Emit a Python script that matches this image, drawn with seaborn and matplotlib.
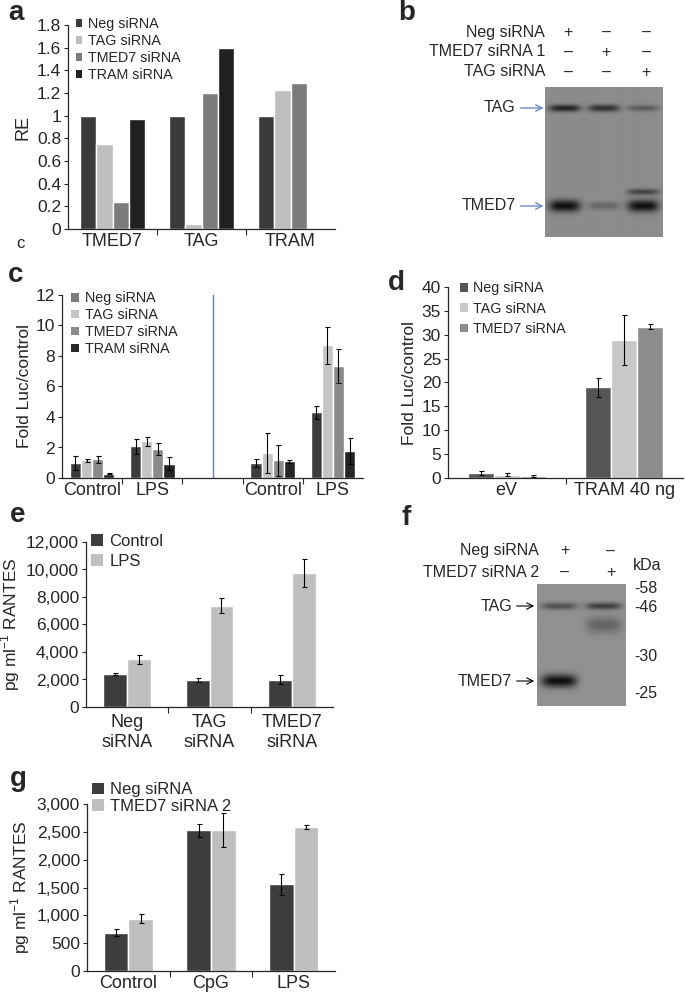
import numpy as np
import pandas as pd
import matplotlib.pyplot as plt
import seaborn as sns
from matplotlib.patches import Patch
from matplotlib.ticker import FuncFormatter

sns.set_theme(style='ticks')
plt.rcParams['font.family'] = ['Liberation Sans', 'DejaVu Sans']
plt.rcParams['mathtext.fontset'] = 'custom'
plt.rcParams['mathtext.rm'] = 'Liberation Sans'
plt.rcParams['axes.linewidth'] = 0.9

# ---- panel a: relative expression
a_genes = ['TMED7', 'TAG', 'TRAM']
a_sirna = ['Neg siRNA', 'TAG siRNA', 'TMED7 siRNA', 'TRAM siRNA']
a_neg = [1.0, 1.0, 1.0]
a_tag = [0.75, 0.04, 1.23]
a_tmed7 = [0.24, 1.2, 1.29]
a_tram = [0.97, 1.6, np.nan]

# ---- panel c: NF-kB luciferase
c_keys = ['Control 1', 'LPS 1', 'gap', 'Control 2', 'LPS 2']
c_labels = ['Control', 'LPS', '', 'Control', 'LPS']
c_neg = [1.0, 2.07, 1.0, 4.3]
c_tag = [1.15, 2.4, 1.65, 8.7]
c_tmed7 = [1.22, 1.9, 1.15, 7.35]
c_tram = [0.28, 0.95, 1.1, 1.75]
c_neg_err = [0.45, 0.5, 0.25, 0.45]
c_tag_err = [0.1, 0.3, 1.3, 1.2]
c_tmed7_err = [0.25, 0.4, 1.0, 1.1]
c_tram_err = [0.05, 0.4, 0.1, 0.85]

# ---- panel d: TRAM overexpression
d_groups = ['eV', 'TRAM 40 ng']
d_sirna = ['Neg siRNA', 'TAG siRNA', 'TMED7 siRNA']
d_neg = [1.0, 19.0]
d_tag = [0.7, 28.9]
d_tmed7 = [0.4, 31.7]
d_neg_err = [0.4, 2.0]
d_tag_err = [0.3, 5.2]
d_tmed7_err = [0.2, 0.6]

# ---- panel e: RANTES
e_groups = ['Neg\nsiRNA', 'TAG\nsiRNA', 'TMED7\nsiRNA']
e_control = [2380, 1990, 1990]
e_lps = [3470, 7370, 9750]
e_control_err = [60, 145, 340]
e_lps_err = [340, 560, 1040]

# ---- panel g: RANTES, siRNA 2
g_groups = ['Control', 'CpG', 'LPS']
g_neg = [690, 2527, 1557]
g_tmed7 = [940, 2527, 2587]
g_neg_err = [60, 114, 192]
g_tmed7_err = [84, 305, 30]

# ---- blots: (lane, row position, intensity, thickness)
b_bands = [(0, 21, 0.85, 3.5), (1, 21, 0.75, 3.5), (2, 21, 0.4, 3.0),
           (0, 119, 1.0, 6.0), (1, 119, 0.3, 4.0), (2, 119, 1.0, 6.0),
           (2, 105, 0.6, 3.0)]
f_bands = [(0, 22, 0.5, 3.5), (1, 22, 0.65, 3.5), (1, 41, 0.35, 8.0),
           (0, 97, 1.0, 6.5)]
f_kda = [58, 46, 30, 25]
f_kda_pos = [3, 22, 71, 108]

W, H = 685, 996
fig = plt.figure(figsize=(W / 100, H / 100), dpi=100)

XT, YT, YL, BL = 13, 12.5, 12.5, 11.5


def rect(l, t, r, b):
    return [l / W, 1 - b / H, (r - l) / W, (b - t) / H]


def fx(x):
    return x / W


def fy(y):
    return 1 - y / H


def long_df(groups, names, cols, errs=None):
    rows = []
    for name, vals, i in zip(names, cols, range(len(cols))):
        for gi, g in enumerate(groups):
            e = errs[i][gi] if errs is not None else np.nan
            rows.append({'group': g, 'siRNA': name, 'value': vals[gi], 'err': e})
    return pd.DataFrame(rows)


def bar_panel(ax, df, order, hue_order, colors, width):
    sns.barplot(data=df, x='group', y='value', hue='siRNA', order=order,
                hue_order=hue_order, palette=colors, errorbar=None,
                width=width, saturation=1, legend=False, ax=ax)
    lookup = df.set_index(['group', 'siRNA'])['err']
    for cont, h in zip(ax.containers, hue_order):
        for bar in cont:
            xc = bar.get_x() + bar.get_width() / 2
            g = order[int(round(xc))]
            e = lookup.get((g, h), np.nan)
            if not np.isnan(e):
                ax.errorbar(xc, bar.get_height(), yerr=e, fmt='none',
                            ecolor='black', elinewidth=0.8, capsize=1.8,
                            capthick=0.8)
    n = len(order)
    ax.set_xlim(-0.5, n - 0.5)
    ax.set_xticks(np.arange(0.5, n - 0.5), minor=True)
    ax.tick_params(axis='x', which='major', length=0, pad=3, labelsize=XT)
    ax.tick_params(axis='x', which='minor', length=4, width=0.8, direction='out')
    ax.tick_params(axis='y', length=3, width=0.8, labelsize=YT, pad=2)
    ax.set_xlabel('')
    sns.despine(ax=ax)


def legend(ax, names, colors, loc, bbox, size=9, spacing=0.35, hl=0.6):
    handles = [Patch(facecolor=c, edgecolor='none', label=n) for n, c in zip(names, colors)]
    ax.legend(handles=handles, loc=loc, bbox_to_anchor=bbox, frameon=False,
              fontsize=size, handlelength=hl, handleheight=hl,
              handletextpad=0.4, labelspacing=spacing, borderaxespad=0,
              borderpad=0)


def blot(ax, n_lanes, height, bands, bg):
    xs = np.linspace(0, n_lanes, 300)
    ys = np.linspace(0, height, 300)
    X, Y = np.meshgrid(xs, ys)
    dark = np.zeros_like(X)
    for lane, y0, inten, wy in bands:
        dark += inten * np.exp(-((X - lane - 0.5) / 0.4) ** 4) * np.exp(-((Y - y0) / wy) ** 2)
    img = bg - np.clip(dark, 0, 1) * (bg - 0.06)
    ax.imshow(img, cmap='gray', vmin=0, vmax=1, extent=[0, n_lanes, height, 0],
              aspect='auto', interpolation='bilinear')
    ax.set_xticks([])
    ax.set_yticks([])
    for s in ax.spines.values():
        s.set_visible(False)


thousands = FuncFormatter(lambda v, p: f'{int(v):,}')
label_kw = dict(fontsize=20, fontweight='bold')

# ================= a
ax_a = fig.add_axes(rect(68, 25, 335, 229))
df_a = long_df(a_genes, a_sirna, [a_neg, a_tag, a_tmed7, a_tram])
a_colors = ['#3a3a3a', '#bebebe', '#7c7c7c', '#202020']
bar_panel(ax_a, df_a, a_genes, a_sirna, a_colors, 0.74)
ax_a.set_ylim(0, 1.8)
ax_a.set_yticks(np.arange(0, 1.81, 0.2))
ax_a.set_yticklabels(['0', '0.2', '0.4', '0.6', '0.8', '1', '1.2', '1.4', '1.6', '1.8'])
ax_a.set_ylabel('RE', fontsize=13, labelpad=4)
legend(ax_a, a_sirna, a_colors, 'upper left', (0.03, 1.04), size=10.3, spacing=0.22, hl=0.45)
fig.text(fx(8), fy(20), 'a', **label_kw)
fig.text(fx(16), fy(243), 'c', fontsize=12, va='center')

# ================= b
ax_b = fig.add_axes(rect(545, 87, 663, 237))
blot(ax_b, 3, 150, b_bands, 0.55)
b_rows = ['Neg siRNA', 'TMED7 siRNA 1', 'TAG siRNA']
b_signs = [['+', '–', '–'], ['–', '+', '–'], ['–', '–', '+']]
for i, (name, y) in enumerate(zip(b_rows, [32, 52, 72])):
    fig.text(fx(545), fy(y), name, ha='right', va='center', fontsize=BL)
    for j, x in enumerate([568, 606, 646]):
        fig.text(fx(x), fy(y), b_signs[i][j], ha='center', va='center', fontsize=BL)
for name, y in [('TAG', 21), ('TMED7', 119)]:
    ax_b.annotate(name, xy=(0, y), xycoords='data', xytext=(-21, 0),
                  textcoords='offset points', ha='right', va='center', fontsize=BL,
                  arrowprops=dict(arrowstyle='->', color='#6a8cc8', lw=1,
                                  shrinkA=1, shrinkB=1), annotation_clip=False)
fig.text(fx(398), fy(20), 'b', **label_kw)

# ================= c
ax_c = fig.add_axes(rect(62, 295, 363, 478))
c_names = ['Neg siRNA', 'TAG siRNA', 'TMED7 siRNA', 'TRAM siRNA']
c_data_keys = [k for k in c_keys if k != 'gap']
df_c = long_df(c_data_keys, c_names, [c_neg, c_tag, c_tmed7, c_tram],
               [c_neg_err, c_tag_err, c_tmed7_err, c_tram_err])
c_colors = ['#3c3c3c', '#c4c4c4', '#8a8a8a', '#252525']
bar_panel(ax_c, df_c, c_keys, c_names, c_colors, 0.74)
ax_c.set_xticks(range(len(c_keys)))
ax_c.set_xticklabels(c_labels)
ax_c.set_ylim(0, 12)
ax_c.set_yticks(range(0, 13, 2))
ax_c.axvline(c_keys.index('gap'), color='#5a7ec8', lw=1)
ax_c.set_ylabel('Fold Luc/control', fontsize=YL, labelpad=3)
legend(ax_c, c_names, ['#7d7d7d', '#c4c4c4', '#8a8a8a', '#2a2a2a'],
       'upper left', (0.03, 1.02), size=10.3, spacing=0.2, hl=0.55)
fig.text(fx(8), fy(282), 'c', **label_kw)

# ================= d
ax_d = fig.add_axes(rect(448, 287, 683, 478))
df_d = long_df(d_groups, d_sirna, [d_neg, d_tag, d_tmed7],
               [d_neg_err, d_tag_err, d_tmed7_err])
d_colors = ['#555555', '#c8c8c8', '#8c8c8c']
bar_panel(ax_d, df_d, d_groups, d_sirna, d_colors, 0.66)
ax_d.set_ylim(0, 40)
ax_d.set_yticks(range(0, 41, 5))
ax_d.set_ylabel('Fold Luc/control', fontsize=YL, labelpad=3)
legend(ax_d, d_sirna, d_colors, 'upper left', (0.05, 1.03), size=10.3, spacing=0.45, hl=0.55)
fig.text(fx(388), fy(290), 'd', **label_kw)

# ================= e
ax_e = fig.add_axes(rect(86, 542, 333, 707))
e_names = ['Control', 'LPS']
df_e = long_df(e_groups, e_names, [e_control, e_lps], [e_control_err, e_lps_err])
e_colors = ['#3d3d3d', '#bfbfbf']
bar_panel(ax_e, df_e, e_groups, e_names, e_colors, 0.58)
ax_e.tick_params(axis='x', which='major', pad=5)
for t in ax_e.get_xticklabels():
    t.set_linespacing(1.25)
ax_e.set_ylim(0, 12000)
ax_e.set_yticks(range(0, 12001, 2000))
ax_e.yaxis.set_major_formatter(thousands)
ax_e.set_ylabel(r'pg ml$^{-1}$ RANTES', fontsize=YL, labelpad=3)
legend(ax_e, e_names, e_colors, 'upper left', (0.02, 1.05), size=12, spacing=0.3, hl=0.7)
fig.text(fx(10), fy(522), 'e', **label_kw)

# ================= f
ax_f = fig.add_axes(rect(537, 584, 626, 706))
blot(ax_f, 2, 122, f_bands, 0.57)
ax_f.yaxis.tick_right()
ax_f.set_yticks(f_kda_pos)
ax_f.set_yticklabels(['-' + str(k) for k in f_kda])
ax_f.tick_params(axis='y', length=0, pad=6, labelsize=BL)
f_rows = ['Neg siRNA', 'TMED7 siRNA 2']
f_signs = [['+', '–'], ['–', '+']]
for i, (name, y) in enumerate(zip(f_rows, [551, 572])):
    fig.text(fx(539), fy(y), name, ha='right', va='center', fontsize=BL)
    for j, x in enumerate([565, 611]):
        fig.text(fx(x), fy(y), f_signs[i][j], ha='center', va='center', fontsize=BL)
fig.text(fx(633), fy(566), 'kDa', ha='left', va='center', fontsize=BL)
for name, y in [('TAG', 22), ('TMED7', 97)]:
    ax_f.annotate(name, xy=(0, y), xycoords='data', xytext=(-18, 0),
                  textcoords='offset points', ha='right', va='center', fontsize=BL,
                  arrowprops=dict(arrowstyle='->', color='black', lw=0.8,
                                  shrinkA=1, shrinkB=2), annotation_clip=False)
fig.text(fx(402), fy(525), 'f', **label_kw)

# ================= g
ax_g = fig.add_axes(rect(87, 804, 335, 971))
g_names = ['Neg siRNA', 'TMED7 siRNA 2']
df_g = long_df(g_groups, g_names, [g_neg, g_tmed7], [g_neg_err, g_tmed7_err])
bar_panel(ax_g, df_g, g_groups, g_names, e_colors, 0.6)
ax_g.set_ylim(0, 3000)
ax_g.set_yticks(range(0, 3001, 500))
ax_g.yaxis.set_major_formatter(thousands)
ax_g.set_ylabel(r'pg ml$^{-1}$ RANTES', fontsize=YL, labelpad=3)
legend(ax_g, g_names, e_colors, 'upper left', (0.02, 1.13), size=12, spacing=0.08, hl=0.7)
fig.text(fx(10), fy(786), 'g', **label_kw)

fig.savefig('out.png', dpi=100)
